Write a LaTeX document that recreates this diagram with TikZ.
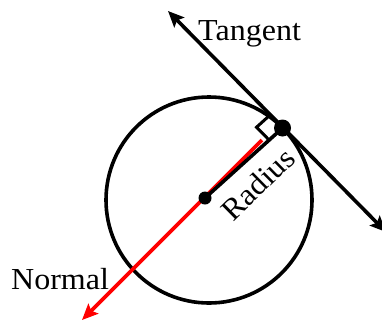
\documentclass[tikz,border=0pt]{standalone}
\usepackage{fontspec}
\setmainfont{Liberation Serif}[FakeStretch=1.05]
\usetikzlibrary{arrows.meta,calc}
\tikzset{
  thick line/.style={line width=3.6pt},
  tip/.style={-{Stealth[length=16pt,width=14pt,inset=3pt]}},
  lbl/.style={font=\fontsize{30.5}{36}\selectfont, inner sep=0pt},
  dot/.style={circle, fill=black, inner sep=0pt}
}
\begin{document}
\begin{tikzpicture}[x=1pt,y=-1pt]
\useasboundingbox (0,0) rectangle (382,322);
\coordinate (O) at (209,200);
\coordinate (P) at (282.5,128);
\coordinate (C) at (205,198);
\coordinate (T1) at (168,11);
\coordinate (T2) at (386,232);
\coordinate (R0) at (262,140);
\coordinate (N1) at (82,320);
% circle
\node[draw, thick line, circle, minimum size=206pt, inner sep=0pt] (circ) at (O) {};
% normal (red)
\draw[thick line, red, tip] (R0) -- (N1);
% radius
\draw[thick line] (P) -- (C);
% tangent
\draw[thick line, {Stealth[length=16pt,width=14pt,inset=3pt]}-{Stealth[length=16pt,width=14pt,inset=3pt]}] (T1) -- (T2);
% right angle marker
\coordinate (Q1) at ($(P)!18pt!(C)$);
\coordinate (Q2) at ($(P)!18pt!(T1)$);
\coordinate (Q3) at ($(Q1)+(Q2)-(P)$);
\draw[line width=3pt] (Q1) -- (Q3) -- (Q2);
% dots
\node[dot, minimum size=17pt] (pdot) at (P) {};
\node[dot, minimum size=13pt] (cdot) at (C) {};
% labels
\node[lbl, anchor=base west] (tang) at (198,40) {Tangent};
\node[lbl, anchor=base west] (norm) at (11,289) {Normal};
\node[lbl, rotate=44.5] (rad) at (258,184) {Radius};
\end{tikzpicture}
\end{document}
